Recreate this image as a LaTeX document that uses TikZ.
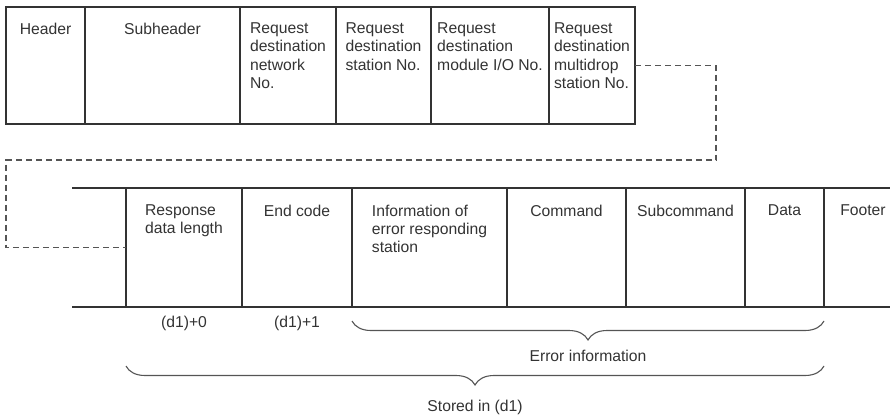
\documentclass[tikz,border=0pt]{standalone}
\usepackage{fontspec}
\setmainfont{Liberation Sans}
\usepackage{tikz}
\usetikzlibrary{positioning,decorations.pathreplacing}
\definecolor{frameGray}{RGB}{51,51,51}
\definecolor{linkGray}{RGB}{85,85,85}

\begin{document}
\begin{tikzpicture}[x=1pt, y=-1pt,
    font=\fontsize{15.7}{18.4}\selectfont, text=frameGray,
    topcell/.style={draw=frameGray, line width=1.1pt, minimum width=#1, minimum height=117pt,
      inner sep=0pt, outer sep=0pt},
    botcell/.style={minimum width=#1, minimum height=119pt, inner sep=0pt, outer sep=0pt},
    celltext/.style={anchor=north, inner sep=0pt, align=left},
    frame/.style={draw=frameGray, line width=1.1pt},
    link/.style={draw=linkGray, line width=1.1pt, dash pattern=on 6pt off 4pt},
    brace/.style={draw=linkGray, line width=1.1pt, decorate, decoration={brace, amplitude=19pt}}]
  \useasboundingbox (0,0) rectangle (890,416);
  % Request message (upper row)
  \node[topcell=79pt, anchor=north west] (hdr) at (6,7) {};
  \node[topcell=155pt, right=0pt of hdr] (sub) {};
  \node[topcell=96pt, right=0pt of sub] (net) {};
  \node[topcell=95pt, right=0pt of net] (stn) {};
  \node[topcell=118pt, right=0pt of stn] (mod) {};
  \node[topcell=86pt, right=0pt of mod] (mdrop) {};
  \node[celltext] (hdrText) at ([yshift=-15.5pt]hdr.north) {Header};
  \node[celltext] (subText) at ([yshift=-15.5pt]sub.north) {Subheader};
  \node[celltext] (netText) at ([yshift=-15.5pt]net.north) {Request\\destination\\network\\No.};
  \node[celltext] (stnText) at ([yshift=-15.5pt]stn.north) {Request\\destination\\station No.};
  \node[celltext] (modText) at ([yshift=-15.5pt]mod.north) {Request\\destination\\module I/O No.};
  \node[celltext] (mdropText) at ([yshift=-15.5pt]mdrop.north) {Request\\destination\\multidrop\\station No.};
  % Response message (lower row)
  \node[botcell=116pt, anchor=north west] (resp) at (126,188) {};
  \node[botcell=110pt, right=0pt of resp] (endc) {};
  \node[botcell=155pt, right=0pt of endc] (info) {};
  \node[botcell=119pt, right=0pt of info] (cmd) {};
  \node[botcell=119pt, right=0pt of cmd] (subc) {};
  \node[botcell=79pt, right=0pt of subc] (data) {};
  \node[botcell=66pt, right=0pt of data] (foot) {};
  \coordinate (rowTop) at (72,188);
  \coordinate (rowBot) at (72,307);
  \draw[frame] (rowTop) -- (foot.north east);
  \draw[frame] (rowBot) -- (foot.south east);
  \foreach \c in {resp,endc,info,cmd,subc,data,foot}
    \draw[frame] (\c.north west) -- (\c.south west);
  \node[celltext] (respText) at ([yshift=-16.5pt]resp.north) {Response\\data length};
  \node[celltext] (endcText) at ([yshift=-16.5pt]endc.north) {End code};
  \node[celltext] (infoText) at ([yshift=-16.5pt]info.north) {Information of\\error responding\\station};
  \node[celltext] (cmdText) at ([yshift=-16.5pt]cmd.north) {Command};
  \node[celltext] (subcText) at ([yshift=-16.5pt]subc.north) {Subcommand};
  \node[celltext] (dataText) at ([yshift=-16.5pt]data.north) {Data};
  \node[celltext] (footText) at ([xshift=6pt,yshift=-16.5pt]foot.north) {Footer};
  % Continuation line
  \coordinate (bendR) at (716,160);
  \coordinate (bendL) at (6,160);
  \draw[link] (mdrop.east) -| (bendR) -- (bendL) |- (resp.west);
  % Device addresses and braces
  \node (off0) at ([yshift=-16pt]resp.south) {(d1)+0};
  \node (off1) at ([yshift=-16pt]endc.south) {(d1)+1};
  \draw[brace] ([yshift=-14pt]data.south east) -- ([yshift=-14pt]info.south west);
  \node (errLbl) at (588,356) {Error information};
  \draw[brace] ([yshift=-59pt]data.south east) -- ([yshift=-59pt]resp.south west);
  \node (storeLbl) at (475,407) {Stored in (d1)};
\end{tikzpicture}
\end{document}
